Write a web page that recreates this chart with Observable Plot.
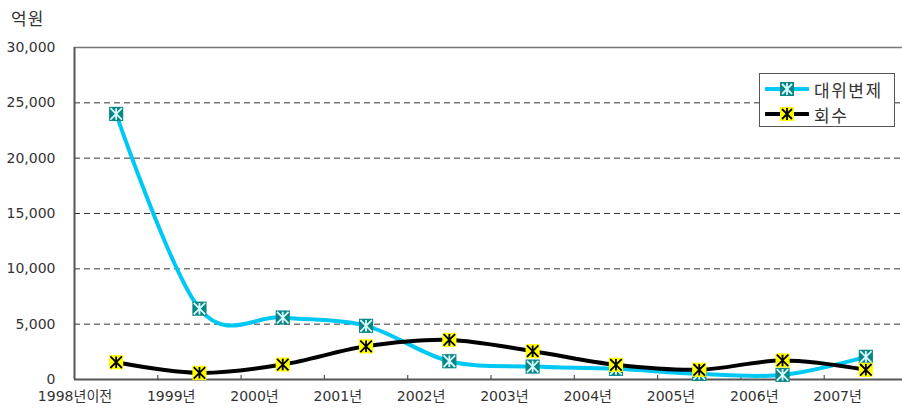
<!DOCTYPE html>
<html><head><meta charset="utf-8">
<script src="https://cdn.jsdelivr.net/npm/d3@7"></script>
<script src="https://cdn.jsdelivr.net/npm/@observablehq/plot@0.6"></script>
<style>
body{margin:0;background:#fff;}
#wrap{position:relative;width:902px;height:412px;overflow:hidden;font-family:"DejaVu Sans","Noto Sans CJK KR",sans-serif;color:#333;}
#unit{position:absolute;left:11px;top:5px;font-size:17px;letter-spacing:1px;color:#333;}
#legend{position:absolute;left:759px;top:73px;width:136px;height:54px;border:1px solid #555;background:#fff;box-sizing:border-box;}
.row{position:absolute;left:5px;height:24px;display:flex;align-items:center;font-size:17px;letter-spacing:1.5px;color:#333;}
.row svg{margin-right:5px;}
</style></head><body><div id="wrap"><div id="unit">억원</div></div>
<script>
const categories = ["1998년이전","1999년","2000년","2001년","2002년","2003년","2004년","2005년","2006년","2007년"];
const subrogation = [24000,6400,5600,4850,1650,1170,960,510,420,2050];
const recovery = [1560,600,1350,3000,3580,2560,1330,880,1720,880];
const yTicks = [0,5000,10000,15000,20000,25000,30000];
const seriesNames = ["대위변제","회수"];
const cyan = "#00c8f5";

const square = {draw(ctx, size){const s=Math.sqrt(size)/2; ctx.moveTo(-s,-s);ctx.lineTo(s,-s);ctx.lineTo(s,s);ctx.lineTo(-s,s);ctx.closePath();}};
const asterisk = {draw(ctx, size){const s=Math.sqrt(size)/2; ctx.moveTo(-s,-s);ctx.lineTo(s,s);ctx.moveTo(s,-s);ctx.lineTo(-s,s);ctx.moveTo(0,-s);ctx.lineTo(0,s);}};

const idx = (d,i)=>i+0.5;
const boundaries = d3.range(1, categories.length + 1);

const chart = Plot.plot({
  width: 902, height: 412,
  marginLeft: 74, marginTop: 47, marginBottom: 33, marginRight: 0,
  x: {type:"linear", domain:[0, categories.length], range:[74, 907], axis:null},
  y: {domain:[0,30000], range:[379,47], axis:null},
  style: {fontFamily:'"DejaVu Sans","Noto Sans CJK KR",sans-serif', color:"#333", overflow:"visible"},
  marks: [
    Plot.ruleY(yTicks.filter(d=>d>0 && d<30000), {y:d=>d, stroke:"#333", strokeWidth:1, strokeDasharray:"6,4"}),
    Plot.ruleY([30000], {y:d=>d, stroke:"#777", strokeWidth:1.5}),
    Plot.ruleY([0], {y:d=>d, stroke:"#555", strokeWidth:2}),
    Plot.ruleX([0], {x:d=>d, stroke:"#555", strokeWidth:2}),
    Plot.ruleX(boundaries, {x:d=>d, y1:0, y2:0, insetTop:-4, stroke:"#555", strokeWidth:1.2}),
    Plot.text(yTicks, {y:d=>d, frameAnchor:"left", textAnchor:"end", dx:-19, text:d=>d3.format(",")(d), fontSize:14, fill:"#333"}),
    Plot.text(categories, {x:idx, frameAnchor:"bottom", textAnchor:"end", dx:-4, dy:21, text:d=>d, fontSize:14, fill:"#333"}),
    Plot.line(subrogation, {x:idx, y:d=>d, stroke:cyan, strokeWidth:4, curve:"cardinal", tension:0}),
    Plot.line(recovery, {x:idx, y:d=>d, stroke:"#000", strokeWidth:4, curve:"cardinal", tension:0}),
    Plot.dot(subrogation, {x:idx, y:d=>d, symbol:square, r:8, fill:"#0a8585", stroke:"none"}),
    Plot.dot(subrogation, {x:idx, y:d=>d, symbol:asterisk, r:6.5, fill:"none", stroke:"#d8ffff", strokeWidth:1.8}),
    Plot.dot(recovery, {x:idx, y:d=>d, symbol:square, r:8, fill:"#ffff00", stroke:"none"}),
    Plot.dot(recovery, {x:idx, y:d=>d, symbol:asterisk, r:6.5, fill:"none", stroke:"#000", strokeWidth:1.8})
  ]
});
const wrap = document.getElementById("wrap");
wrap.insertBefore(chart, wrap.firstChild);

// legend
const legend = document.createElement("div");
legend.id = "legend";
const styles = [
  {line:cyan, fill:"#0a8585", mark:"#d8ffff"},
  {line:"#000", fill:"#ffff00", mark:"#000"}
];
seriesNames.forEach((name, i) => {
  const row = document.createElement("div");
  row.className = "row";
  row.style.top = (3 + i*25) + "px";
  const svg = d3.create("svg").attr("width", 44).attr("height", 20);
  svg.append("line").attr("x1",1).attr("x2",43).attr("y1",10).attr("y2",10).attr("stroke",styles[i].line).attr("stroke-width",4).attr("stroke-linecap","round");
  svg.append("rect").attr("x",15).attr("y",3).attr("width",14).attr("height",14).attr("fill",styles[i].fill);
  svg.append("path").attr("d","M17,5L27,15M27,5L17,15M22,4L22,16").attr("stroke",styles[i].mark).attr("stroke-width",1.8).attr("fill","none");
  row.appendChild(svg.node());
  const t = document.createElement("span");
  t.textContent = name;
  row.appendChild(t);
  legend.appendChild(row);
});
wrap.appendChild(legend);
</script>
</body></html>
